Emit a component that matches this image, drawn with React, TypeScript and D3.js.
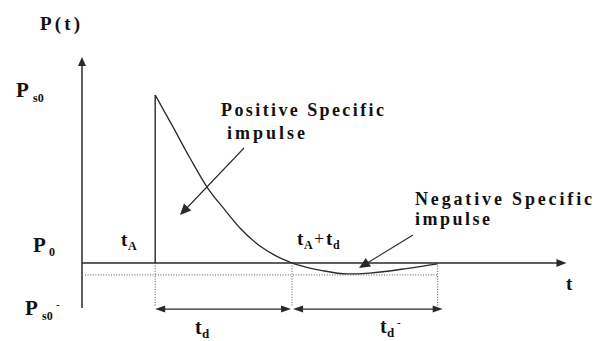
import React from "react";
import * as d3 from "d3";

// Blast pressure-time history (Friedlander-type pulse), normalised units.
const tA = 10; // arrival time
const td = 18.7; // positive phase duration
const tdNeg = 19.9; // negative phase duration
const pPeak = 1; // Ps0
const pNegMin = -0.071; // Ps0-

const positiveT = [10, 12.43, 14.75, 17.08, 19.54, 21.58, 24.32, 26.5, 28.7];
const positiveP = [1, 0.81, 0.625, 0.452, 0.315, 0.208, 0.101, 0.042, 0];
const negativeT = [28.7, 31.15, 32.5, 36.2, 39.3, 44.8, 48.6];
const negativeP = [0, -0.03, -0.042, -0.065, -0.06, -0.03, -0.005];

const W = 602;
const H = 341;
const FONT = "Liberation Serif";
const INK = "#2a2a2a";

const x = d3.scaleLinear().domain([0, 66]).range([82, 565]);
const y = d3.scaleLinear().domain([0, 1]).range([263, 95]);

const tEnd = tA + td + tdNeg;

function arrowHead(tipX: number, tipY: number, dir: "up" | "left" | "right", len = 9, half = 4) {
  let pts: [number, number][];
  if (dir === "up") pts = [[tipX, tipY], [tipX - half, tipY + len], [tipX + half, tipY + len]];
  else if (dir === "left") pts = [[tipX, tipY], [tipX + len, tipY - half], [tipX + len, tipY + half]];
  else pts = [[tipX, tipY], [tipX - len, tipY - half], [tipX - len, tipY + half]];
  return pts.map((p) => p.join(",")).join(" ");
}

function slantHead(fromX: number, fromY: number, tipX: number, tipY: number, len = 10, half = 4.5) {
  const a = Math.atan2(tipY - fromY, tipX - fromX);
  const bx = tipX - len * Math.cos(a);
  const by = tipY - len * Math.sin(a);
  const nx = -Math.sin(a) * half;
  const ny = Math.cos(a) * half;
  return `${tipX},${tipY} ${bx + nx},${by + ny} ${bx - nx},${by - ny}`;
}

function Label(props: { x: number; y: number; size: number; children: React.ReactNode; len?: number; weight?: number }) {
  return (
    <text
      x={props.x}
      y={props.y}
      fontSize={props.size}
      fontFamily={FONT}
      fontWeight={props.weight ?? 700}
      fill="#111"
      textLength={props.len}
      lengthAdjust={props.len ? "spacing" : undefined}
    >
      {props.children}
    </text>
  );
}

export default function App() {
  const line = d3
    .line<[number, number]>()
    .x((d) => x(d[0]))
    .y((d) => y(d[1]))
    .curve(d3.curveMonotoneX);

  const posPts = positiveT.map((t, i) => [t, positiveP[i]] as [number, number]);
  const negPts = negativeT.map((t, i) => [t, negativeP[i]] as [number, number]);

  const yTop = y(1.226);
  const yBottom = y(-0.268);
  const xRight = x(66.2);
  const dimY = y(-0.274);
  const dotBottom = y(-0.26);

  return (
    <svg width={W} height={H} style={{ position: "absolute", left: 0, top: 0, background: "#fff" }}>
      <rect width={W} height={H} fill="#fff" />

      {/* axes */}
      <line x1={x(0)} y1={yBottom} x2={x(0)} y2={yTop + 6} stroke={INK} strokeWidth={1.5} />
      <polygon points={arrowHead(x(0), yTop, "up", 9, 4)} fill={INK} />
      <line x1={x(0)} y1={y(0)} x2={xRight - 6} y2={y(0)} stroke={INK} strokeWidth={1.5} />
      <polygon points={arrowHead(xRight, y(0), "right", 10, 4)} fill={INK} />

      {/* negative peak reference level */}
      <line x1={x(0) + 3} y1={y(pNegMin)} x2={x(tEnd)} y2={y(pNegMin)} stroke="#555" strokeWidth={1} strokeDasharray="1 1.6" />

      {/* dotted time markers */}
      {[tA, tA + td, tEnd].map((t) => (
        <line key={t} x1={x(t)} y1={y(0)} x2={x(t)} y2={dotBottom} stroke="#555" strokeWidth={1} strokeDasharray="1 1.6" />
      ))}

      {/* pressure pulse */}
      <line x1={x(tA)} y1={y(0)} x2={x(tA)} y2={y(pPeak)} stroke={INK} strokeWidth={1.4} />
      <path d={line(posPts) ?? ""} fill="none" stroke={INK} strokeWidth={1.3} />
      <path d={line(negPts) ?? ""} fill="none" stroke={INK} strokeWidth={1.3} />

      {/* duration dimensions */}
      <line x1={x(tA) + 4} y1={dimY} x2={x(tA + td) - 4} y2={dimY} stroke={INK} strokeWidth={1.3} />
      <polygon points={arrowHead(x(tA), dimY, "left", 10, 3.5)} fill={INK} />
      <polygon points={arrowHead(x(tA + td) - 1, dimY, "right", 10, 3.5)} fill={INK} />
      <line x1={x(tA + td) + 4} y1={dimY} x2={x(tEnd) + 2} y2={dimY} stroke={INK} strokeWidth={1.3} />
      <polygon points={arrowHead(x(tA + td) + 1, dimY, "left", 10, 3.5)} fill={INK} />
      <polygon points={arrowHead(x(tEnd) + 5, dimY, "right", 10, 3.5)} fill={INK} />

      {/* impulse pointers */}
      <line x1={244} y1={148} x2={184} y2={211} stroke={INK} strokeWidth={1.1} />
      <polygon points={slantHead(244, 148, 180, 215, 11, 5)} fill={INK} />
      <line x1={413} y1={235} x2={364} y2={265} stroke={INK} strokeWidth={1.1} />
      <polygon points={slantHead(413, 235, 359, 268, 11, 5)} fill={INK} />

      {/* axis labels */}
      <Label x={40} y={30} size={19} len={40}>P(t)</Label>
      <Label x={566} y={290} size={19}>t</Label>

      <Label x={16} y={97} size={21}>P</Label>
      <Label x={33} y={102} size={12}>s0</Label>

      <Label x={33} y={252} size={21}>P</Label>
      <Label x={49} y={256} size={12}>0</Label>

      <Label x={25} y={315} size={21}>P</Label>
      <Label x={42} y={320} size={12}>s0</Label>
      <Label x={56} y={308} size={11}>-</Label>

      {/* time labels */}
      <Label x={121} y={246} size={19}>t</Label>
      <Label x={128} y={250} size={12}>A</Label>

      <Label x={297} y={245} size={19}>t</Label>
      <Label x={304} y={249} size={12}>A</Label>
      <Label x={314} y={245} size={18} weight={400}>+</Label>
      <Label x={326} y={245} size={19}>t</Label>
      <Label x={333} y={249} size={12}>d</Label>

      <Label x={195} y={334} size={20}>t</Label>
      <Label x={202} y={338} size={13}>d</Label>

      <Label x={380} y={333} size={20}>t</Label>
      <Label x={387} y={337} size={13}>d</Label>
      <Label x={397} y={326} size={11}>-</Label>

      {/* impulse annotations */}
      <Label x={221} y={116} size={18} len={163}>Positive Specific</Label>
      <Label x={227} y={139} size={18} len={78}>impulse</Label>
      <Label x={415} y={205} size={18} len={177}>Negative Specific</Label>
      <Label x={415} y={225} size={18} len={75}>impulse</Label>
    </svg>
  );
}
